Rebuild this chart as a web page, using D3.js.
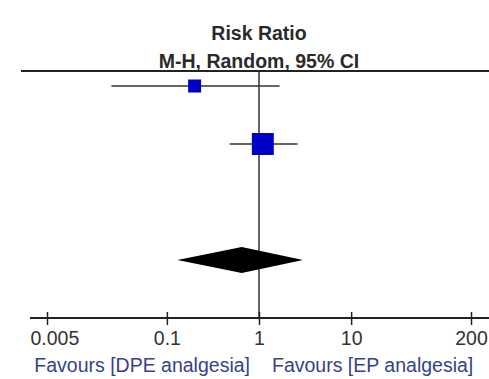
<!DOCTYPE html>
<html>
<head>
<meta charset="utf-8">
<script src="https://cdn.jsdelivr.net/npm/d3@7"></script>
<style>
  body { margin: 0; background: #fff; }
  svg text { font-family: "Liberation Sans", Arial, sans-serif; }
</style>
</head>
<body>
<div id="chart"></div>
<script>
// forest plot data (risk ratios)
const studies = ['Study 1', 'Study 2'];
const estimates = [0.20, 1.10];
const lowers = [0.025, 0.48];
const uppers = [1.67, 2.62];
const weights = [26, 74];
const rows = [0, 1];

const pooled = { est: 0.65, lo: 0.13, hi: 3.0, row: 3 };

const tickValues = [0.005, 0.1, 1, 10, 200];
const tickLabels = ['0.005', '0.1', '1', '10', '200'];
const favourLeft = 'Favours [DPE analgesia]';
const favourRight = 'Favours [EP analgesia]';

const w = 489;
const h = 379;
const topY = 71;
const axisY = 318;

const svg = d3.select('#chart')
  .append('svg')
  .attr('width', w)
  .attr('height', h);

const x = d3.scaleLog()
  .domain([0.005, 200])
  .range([47, 471]);

// row 2 is the empty gap above the total
const y = d3.scaleLinear()
  .domain([0, 3])
  .range([86, 260]);

const size = d3.scaleSqrt().domain([0, 100]).range([0, 25.5]);

// header
svg.append('text')
  .attr('x', x(1))
  .attr('y', 40)
  .attr('text-anchor', 'middle')
  .attr('font-size', 19.5)
  .attr('font-weight', 'bold')
  .attr('fill', '#2a2a2a')
  .text('Risk Ratio');

svg.append('text')
  .attr('x', x(1))
  .attr('y', 68)
  .attr('text-anchor', 'middle')
  .attr('font-size', 19.5)
  .attr('font-weight', 'bold')
  .attr('fill', '#2a2a2a')
  .text('M-H, Random, 95% CI');

// top rule
svg.append('line')
  .attr('x1', 21).attr('x2', w)
  .attr('y1', topY).attr('y2', topY)
  .attr('stroke', '#222').attr('stroke-width', 2);

// line of no effect
svg.append('line')
  .attr('x1', x(1)).attr('x2', x(1))
  .attr('y1', topY).attr('y2', axisY)
  .attr('stroke', '#333').attr('stroke-width', 1.5);

// axis
const xAxis = d3.axisBottom(x)
  .tickValues(tickValues)
  .tickFormat((d, i) => tickLabels[i])
  .tickSize(0)
  .tickSizeOuter(0);

const gAxis = svg.append('g')
  .attr('transform', 'translate(0,' + axisY + ')')
  .call(xAxis);

gAxis.select('.domain').remove();
gAxis.append('line')
  .attr('x1', 30).attr('x2', w)
  .attr('stroke', '#222').attr('stroke-width', 2);

gAxis.selectAll('.tick').append('line')
  .attr('y1', -6).attr('y2', 7)
  .attr('stroke', '#222').attr('stroke-width', 1.5);

gAxis.selectAll('.tick text')
  .attr('y', 27)
  .attr('dy', 0)
  .attr('font-size', 19.5)
  .attr('fill', '#333')
  .attr('font-family', '"Liberation Sans", Arial, sans-serif');

// keep first label inside the left edge
gAxis.selectAll('.tick text').each(function(d) {
  const len = this.getComputedTextLength();
  const left = x(d) - len / 2;
  if (left < 30) d3.select(this).attr('x', 30 - left);
});

// favours labels
svg.append('text')
  .attr('x', x(1) - 9)
  .attr('y', 372)
  .attr('text-anchor', 'end')
  .attr('font-size', 19.5)
  .attr('fill', '#38418a')
  .text(favourLeft);

svg.append('text')
  .attr('x', x(1) + 13)
  .attr('y', 372)
  .attr('text-anchor', 'start')
  .attr('font-size', 19.5)
  .attr('fill', '#38418a')
  .text(favourRight);

// confidence intervals
svg.selectAll('.ci')
  .data(studies)
  .enter()
  .append('line')
  .attr('class', 'ci')
  .attr('x1', (d, i) => x(lowers[i]))
  .attr('x2', (d, i) => x(uppers[i]))
  .attr('y1', (d, i) => y(rows[i]))
  .attr('y2', (d, i) => y(rows[i]))
  .attr('stroke', '#333')
  .attr('stroke-width', 1.5);

// squares sized by weight
svg.selectAll('.est')
  .data(studies)
  .enter()
  .append('rect')
  .attr('class', 'est')
  .attr('x', (d, i) => x(estimates[i]) - size(weights[i]) / 2)
  .attr('y', (d, i) => y(rows[i]) - size(weights[i]) / 2)
  .attr('width', (d, i) => size(weights[i]))
  .attr('height', (d, i) => size(weights[i]))
  .attr('fill', '#0000c4');

// pooled diamond
const dy = 13;
const cy = y(pooled.row);
svg.append('path')
  .attr('d', 'M' + x(pooled.lo) + ',' + cy +
    'L' + x(pooled.est) + ',' + (cy - dy) +
    'L' + x(pooled.hi) + ',' + cy +
    'L' + x(pooled.est) + ',' + (cy + dy) + 'Z')
  .attr('fill', '#000');
</script>
</body>
</html>
